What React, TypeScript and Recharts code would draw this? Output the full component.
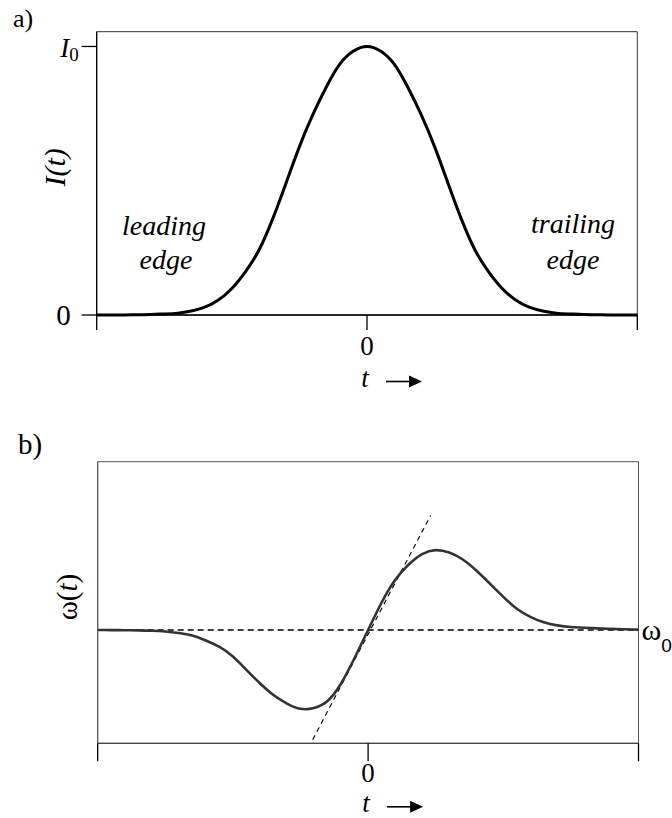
import React from 'react';
import { LineChart, Line, XAxis, YAxis, ReferenceArea, ReferenceLine } from 'recharts';

// ─────────────────────────────────────────────────────────────────────────────
// Data (t in arbitrary units, window -10 … 10)
// ─────────────────────────────────────────────────────────────────────────────

const tValues = [
  -10, -9.5, -9, -8.5, -8, -7.5, -7, -6.5, -6, -5.5, -5, -4.5, -4, -3.5, -3, -2.5, -2, -1.5, -1, -0.5,
  0, 0.5, 1, 1.5, 2, 2.5, 3, 3.5, 4, 4.5, 5, 5.5, 6, 6.5, 7, 7.5, 8, 8.5, 9, 9.5, 10,
];

// a) intensity I(t) / I0
const intensity = [
  0, 0, 0, 0.001, 0.002, 0.004, 0.007, 0.015, 0.029, 0.056, 0.099, 0.161, 0.241, 0.355, 0.49, 0.627, 0.747, 0.85, 0.935, 0.983,
  1.0, 0.983, 0.935, 0.85, 0.747, 0.627, 0.49, 0.355, 0.241, 0.161, 0.099, 0.056, 0.029, 0.015, 0.007, 0.004, 0.002, 0.001, 0, 0, 0,
];

// b) instantaneous frequency ω(t) − ω0 (arbitrary units)
const chirp = [
  0, -0.001, -0.002, -0.004, -0.009, -0.019, -0.038, -0.07, -0.131, -0.212, -0.33, -0.498, -0.666, -0.813, -0.919, -0.985, -0.975, -0.888, -0.669, -0.35,
  0, 0.344, 0.625, 0.819, 0.95, 0.999, 0.968, 0.881, 0.744, 0.581, 0.415, 0.266, 0.165, 0.096, 0.058, 0.038, 0.028, 0.02, 0.014, 0.009, 0.005,
];

// dashed tangent through the centre of the chirp
const tangentT = [-2.05, 2.31];
const tangentW = [-1.37, 1.43];

const tTicks = [-10, 0, 10];

const rows = tValues.map((t, i) => ({ t, I: intensity[i], w: chirp[i] }));
const tangentRows = tangentT.map((t, i) => ({ t, w: tangentW[i] }));

// ─────────────────────────────────────────────────────────────────────────────
// Styling helpers
// ─────────────────────────────────────────────────────────────────────────────

const SERIF = "'Liberation Serif', 'Times New Roman', serif";
const SANS = "'Liberation Sans', Arial, sans-serif";

const makeXTick = (dyBase: number) => (props: any) => {
  const { x, y, payload } = props;
  if (payload.value !== 0) return <g />;
  return (
    <text x={x} y={y + dyBase} textAnchor="middle" fontFamily={SERIF} fontSize={27} fill="#000">
      0
    </text>
  );
};

// "t →" under the axis; offset = baseline distance below the axis line
const makeTArrow = (offset: number) => (props: any) => {
  const vb = props.viewBox;
  const cx = vb.x + vb.width / 2;
  const base = vb.y + offset;
  const ay = base - 5;
  return (
    <g>
      <text x={cx - 2} y={base} textAnchor="middle" fontFamily={SERIF} fontStyle="italic" fontSize={27} fill="#000">
        t
      </text>
      <line x1={cx + 19} x2={cx + 45} y1={ay} y2={ay} stroke="#000" strokeWidth={1.6} />
      <polygon points={`${cx + 55},${ay} ${cx + 42},${ay - 6} ${cx + 42},${ay + 6}`} fill="#000" />
    </g>
  );
};

const IntensityYTick = (props: any) => {
  const { x, y, payload } = props;
  if (payload.value === 1) {
    return (
      <text x={x - 1} y={y + 10.5} textAnchor="end" fontFamily={SERIF} fontSize={27} fill="#000">
        <tspan fontStyle="italic">I</tspan>
        <tspan fontSize={19} dy={4}>0</tspan>
      </text>
    );
  }
  return (
    <text x={x - 9} y={y + 10} textAnchor="end" fontFamily={SERIF} fontSize={29} fill="#000">
      0
    </text>
  );
};

const IntensityLabel = (props: any) => {
  const vb = props.viewBox;
  const cx = 55;
  const cy = vb.y + vb.height / 2 - 6;
  return (
    <text
      x={cx}
      y={cy}
      transform={`rotate(-90, ${cx}, ${cy})`}
      textAnchor="middle"
      dominantBaseline="central"
      fontFamily={SERIF}
      fontStyle="italic"
      fontSize={30}
      fill="#000"
    >
      I(t)
    </text>
  );
};

const OmegaLabel = (props: any) => {
  const vb = props.viewBox;
  const cx = 67;
  const cy = vb.y + vb.height / 2 - 5.5;
  return (
    <text
      x={cx}
      y={cy}
      transform={`rotate(-90, ${cx}, ${cy})`}
      textAnchor="middle"
      dominantBaseline="central"
      fontFamily={SERIF}
      fontSize={29}
      fill="#000"
    >
      ω(<tspan fontStyle="italic">t</tspan>)
    </text>
  );
};

const Omega0Label = (props: any) => {
  const vb = props.viewBox;
  const x = vb.x + vb.width + 3;
  const y = vb.y;
  return (
    <text x={x} y={y + 10} fontFamily={SERIF} fontSize={30} fill="#000">
      ω
      <tspan fontFamily={SANS} fontSize={19} dy={12}>0</tspan>
    </text>
  );
};

// ─────────────────────────────────────────────────────────────────────────────
// Component
// ─────────────────────────────────────────────────────────────────────────────

export default function App() {
  return (
    <div style={{ position: 'absolute', left: 0, top: 0, width: 672, height: 818, background: '#fff', overflow: 'hidden' }}>
      {/* a) pulse intensity */}
      <div style={{ position: 'absolute', left: 0, top: 0 }}>
        <LineChart width={672} height={400} data={rows} margin={{ top: 31.7, right: 34.7, bottom: 0, left: 0 }}>
          <ReferenceArea x1={-10} x2={10} y1={0} y2={1.055} fill="none" stroke="#333" strokeWidth={1} ifOverflow="visible" />
          <XAxis
            dataKey="t"
            type="number"
            domain={[-10, 10]}
            ticks={tTicks}
            interval={0}
            height={85}
            tickSize={15}
            tickLine={{ stroke: '#000', strokeWidth: 1.3 }}
            axisLine={{ stroke: '#000', strokeWidth: 1.5 }}
            tick={makeXTick(23)}
            label={makeTArrow(71.5)}
          />
          <YAxis
            type="number"
            domain={[0, 1.055]}
            ticks={[0, 1]}
            interval={0}
            width={96.7}
            tickSize={15}
            tickLine={{ stroke: '#000', strokeWidth: 1.3 }}
            axisLine={{ stroke: '#000', strokeWidth: 1.2 }}
            tick={IntensityYTick}
            label={IntensityLabel}
          />
          <Line
            dataKey="I"
            type="natural"
            stroke="#000"
            strokeWidth={3}
            dot={false}
            activeDot={false}
            isAnimationActive={false}
          />
        </LineChart>
      </div>

      {/* b) instantaneous frequency */}
      <div style={{ position: 'absolute', left: 0, top: 420 }}>
        <LineChart width={672} height={398} data={rows} margin={{ top: 41.7, right: 33.5, bottom: 0, left: 0 }}>
          <ReferenceArea x1={-10} x2={10} y1={-1.416} y2={2.104} fill="none" stroke="#555" strokeWidth={1} ifOverflow="visible" />
          <XAxis
            dataKey="t"
            type="number"
            domain={[-10, 10]}
            ticks={tTicks}
            interval={0}
            height={74.7}
            tickSize={18}
            tickLine={{ stroke: '#000', strokeWidth: 1.3 }}
            axisLine={{ stroke: '#444', strokeWidth: 1.3 }}
            tick={makeXTick(18.5)}
            label={makeTArrow(68.5)}
          />
          <YAxis
            type="number"
            domain={[-1.416, 2.104]}
            width={97.7}
            tick={false}
            tickLine={false}
            axisLine={{ stroke: '#555', strokeWidth: 1 }}
            label={OmegaLabel}
          />
          <ReferenceLine y={0} stroke="#000" strokeWidth={1.3} strokeDasharray="6 4" label={Omega0Label} />
          <Line
            data={tangentRows}
            dataKey="w"
            type="linear"
            stroke="#000"
            strokeWidth={1.1}
            strokeDasharray="5 4"
            dot={false}
            activeDot={false}
            isAnimationActive={false}
          />
          <Line
            dataKey="w"
            type="natural"
            stroke="#333"
            strokeWidth={2.6}
            dot={false}
            activeDot={false}
            isAnimationActive={false}
          />
        </LineChart>
      </div>

      {/* panel letters and edge annotations */}
      <svg width={672} height={818} style={{ position: 'absolute', left: 0, top: 0, pointerEvents: 'none' }}>
        <text x={13} y={27} fontFamily={SERIF} fontSize={26} fill="#000">a)</text>
        <text x={18} y={454} fontFamily={SERIF} fontSize={29} fill="#000">b)</text>
        <g fontFamily={SERIF} fontStyle="italic" fontSize={28} fill="#000" textAnchor="middle">
          <text x={164} y={235}>leading</text>
          <text x={166} y={269}>edge</text>
          <text x={573} y={233}>trailing</text>
          <text x={573} y={269}>edge</text>
        </g>
      </svg>
    </div>
  );
}
